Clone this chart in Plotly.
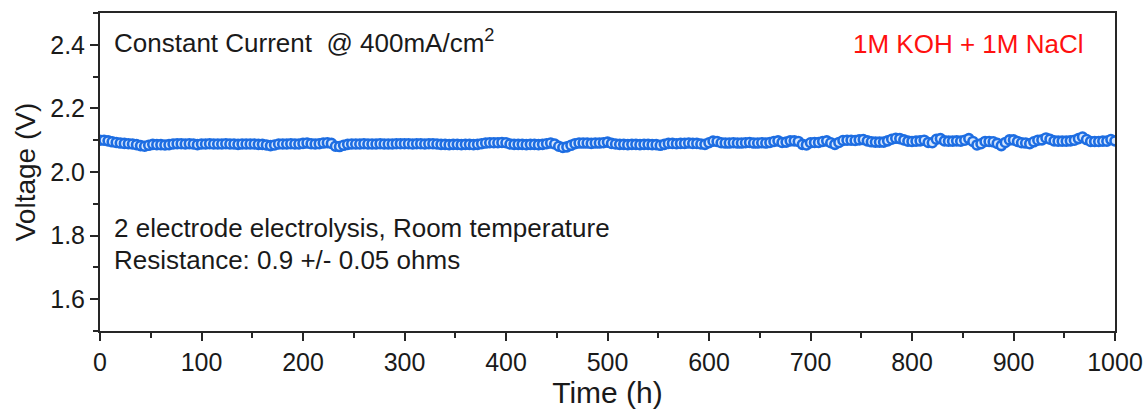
import plotly.graph_objects as go

# Cell voltage during a 1000 h constant-current run (sampled every 4 h)
time_h = list(range(0, 1001, 4))

voltage_v = [
    # 0 - 96 h
    2.100, 2.100, 2.098, 2.095, 2.093, 2.091, 2.090, 2.089, 2.088, 2.086,
    2.083, 2.081, 2.084, 2.087, 2.086, 2.086, 2.085, 2.086, 2.088, 2.089,
    2.089, 2.088, 2.089, 2.088, 2.086,
    # 100 - 196 h
    2.088, 2.088, 2.089, 2.088, 2.088, 2.088, 2.089, 2.088, 2.088, 2.087,
    2.088, 2.088, 2.088, 2.088, 2.087, 2.087, 2.085, 2.083, 2.085, 2.088,
    2.088, 2.088, 2.089, 2.088, 2.088,
    # 200 - 296 h
    2.090, 2.091, 2.089, 2.088, 2.089, 2.091, 2.092, 2.090, 2.081, 2.080,
    2.084, 2.087, 2.088, 2.088, 2.088, 2.089, 2.088, 2.088, 2.088, 2.089,
    2.088, 2.088, 2.088, 2.089, 2.089,
    # 300 - 396 h
    2.089, 2.089, 2.088, 2.089, 2.089, 2.088, 2.089, 2.089, 2.088, 2.087,
    2.087, 2.086, 2.087, 2.087, 2.086, 2.087, 2.087, 2.086, 2.087, 2.089,
    2.091, 2.092, 2.092, 2.092, 2.093,
    # 400 - 496 h
    2.092, 2.088, 2.087, 2.087, 2.087, 2.086, 2.087, 2.087, 2.086, 2.087,
    2.089, 2.091, 2.088, 2.081, 2.077, 2.079, 2.084, 2.089, 2.091, 2.091,
    2.091, 2.090, 2.091, 2.091, 2.092,
    # 500 - 596 h
    2.094, 2.090, 2.088, 2.087, 2.087, 2.086, 2.087, 2.087, 2.086, 2.087,
    2.087, 2.086, 2.086, 2.084, 2.087, 2.090, 2.090, 2.089, 2.090, 2.090,
    2.091, 2.090, 2.090, 2.088, 2.087,
    # 600 - 696 h
    2.092, 2.097, 2.096, 2.092, 2.091, 2.091, 2.092, 2.091, 2.091, 2.092,
    2.093, 2.091, 2.091, 2.092, 2.091, 2.093, 2.096, 2.098, 2.093, 2.094,
    2.098, 2.098, 2.096, 2.087, 2.085,
    # 700 - 796 h
    2.092, 2.093, 2.093, 2.096, 2.098, 2.092, 2.087, 2.093, 2.099, 2.100,
    2.100, 2.099, 2.101, 2.102, 2.098, 2.095, 2.094, 2.094, 2.094, 2.098,
    2.103, 2.106, 2.105, 2.101, 2.097,
    # 800 - 896 h
    2.096, 2.097, 2.098, 2.100, 2.093, 2.092, 2.103, 2.105, 2.098, 2.097,
    2.097, 2.098, 2.097, 2.100, 2.105, 2.096, 2.085, 2.089, 2.096, 2.096,
    2.095, 2.090, 2.083, 2.093, 2.101,
    # 900 - 1000 h
    2.101, 2.096, 2.092, 2.091, 2.089, 2.095, 2.100, 2.101, 2.107, 2.103,
    2.098, 2.097, 2.097, 2.097, 2.098, 2.100, 2.105, 2.110, 2.102, 2.096,
    2.096, 2.096, 2.097, 2.097, 2.102,
    2.098,
]

x_ticks = [0, 100, 200, 300, 400, 500, 600, 700, 800, 900, 1000]
y_ticks = [1.6, 1.8, 2.0, 2.2, 2.4]

FONT = "Liberation Sans, Arial, sans-serif"
INK = "#1a1a1a"
AXIS = "#262626"

fig = go.Figure()
fig.add_trace(
    go.Scatter(
        x=time_h,
        y=voltage_v,
        mode="markers",
        marker=dict(
            symbol="circle",
            size=9,
            color="#d6e6fc",
            line=dict(color="#1d6de2", width=2.6),
        ),
        showlegend=False,
    )
)

axis_common = dict(
    showline=True,
    linewidth=2,
    linecolor=AXIS,
    mirror=True,
    showgrid=False,
    zeroline=False,
    automargin=False,
    ticks="outside",
    ticklen=8,
    tickwidth=2,
    tickcolor=AXIS,
    tickfont=dict(family=FONT, size=25, color=INK),
)

fig.update_xaxes(
    range=[0, 1000],
    tickvals=x_ticks,
    ticktext=[str(v) for v in x_ticks],
    minor=dict(dtick=50, tick0=0, ticks="outside", ticklen=5, tickwidth=2, tickcolor=AXIS),
    title=dict(text="Time (h)", font=dict(family=FONT, size=30, color=INK), standoff=4),
    **axis_common,
)
fig.update_yaxes(
    range=[1.5, 2.5],
    tickvals=y_ticks,
    ticktext=[f"{v:.1f}" for v in y_ticks],
    minor=dict(dtick=0.1, tick0=1.5, ticks="outside", ticklen=5, tickwidth=2, tickcolor=AXIS),
    title=dict(text="Voltage (V)", font=dict(family=FONT, size=28, color=INK), standoff=6),
    **axis_common,
)

fig.add_annotation(
    text="Constant Current  @ 400mA/cm<sup>2</sup>",
    xref="paper", yref="paper", x=0.012, y=0.91,
    xanchor="left", yanchor="middle", showarrow=False,
    font=dict(family=FONT, size=26, color=INK),
)
fig.add_annotation(
    text="1M KOH + 1M NaCl",
    xref="paper", yref="paper", x=0.855, y=0.902,
    xanchor="center", yanchor="middle", showarrow=False,
    font=dict(family=FONT, size=26, color="#ff1010"),
)
fig.add_annotation(
    text="2 electrode electrolysis, Room temperature",
    xref="paper", yref="paper", x=0.012, y=0.323,
    xanchor="left", yanchor="middle", showarrow=False,
    font=dict(family=FONT, size=26, color=INK),
)
fig.add_annotation(
    text="Resistance: 0.9 +/- 0.05 ohms",
    xref="paper", yref="paper", x=0.012, y=0.222,
    xanchor="left", yanchor="middle", showarrow=False,
    font=dict(family=FONT, size=26, color=INK),
)

fig.update_layout(
    width=1148,
    height=410,
    margin=dict(l=100, r=33, t=13, b=79),
    paper_bgcolor="white",
    plot_bgcolor="white",
)

fig.write_html("out.html")
